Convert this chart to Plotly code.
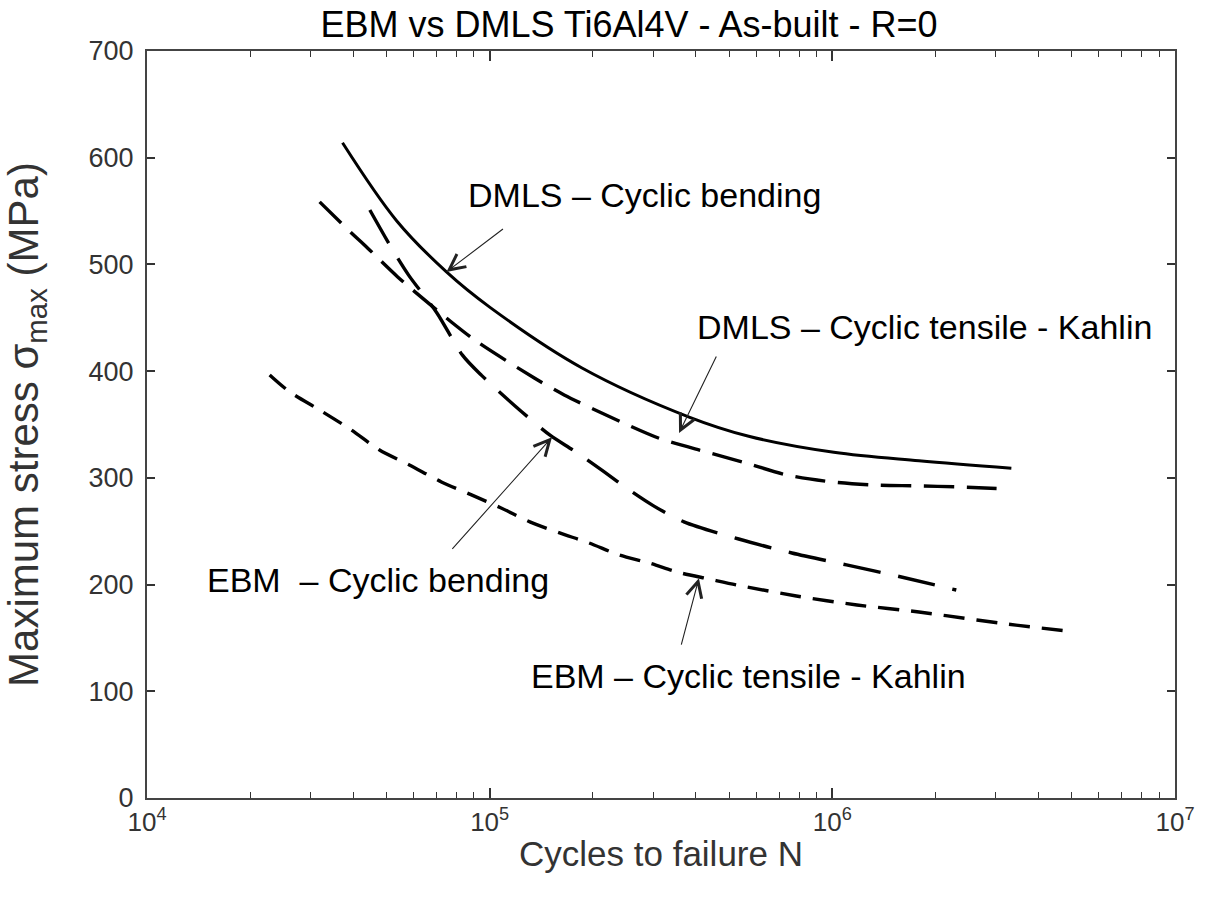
import numpy as np
import plotly.graph_objects as go

# ---- data ----
dmls_bend_N = [37200, 53500, 74800, 100000, 186000, 382000, 570000, 1010000, 1790000, 3330000]
dmls_bend_S = [614, 541, 493, 460, 403, 357, 339, 324, 316, 309]

dmls_tens_N = [31900, 39500, 43100, 53900, 77300, 92100, 135000, 165000, 242000, 316000,
               428000, 560000, 736000, 995000, 1320000, 1750000, 2330000, 3270000]
dmls_tens_S = [558.6, 529.5, 518.3, 488.3, 446.1, 427.4, 393.6, 377.7, 352.4, 336.5,
               324.3, 313.9, 302.7, 296.2, 293.3, 292.5, 291.5, 289.6]

ebm_bend_N = [44700, 51800, 58000, 70000, 83300, 94700, 124000, 150000, 177000, 215000,
              260000, 300000, 369000, 533000, 762000, 1100000, 1590000, 2300000]
ebm_bend_S = [551, 515, 490, 455, 415, 396, 362, 340, 325, 306,
              287, 274, 258.7, 242.7, 229.6, 218.4, 207.1, 194.9]

ebm_tens_N = [22800, 26100, 31900, 39500, 47700, 58300, 72300, 88500, 108000, 131000, 160000,
              195000, 239000, 292000, 361000, 437000, 527000, 785000, 1180000, 1790000,
              2640000, 3220000, 4820000]
ebm_tens_S = [396.4, 380.5, 363.6, 344.9, 326.1, 312.1, 296.2, 284.0, 271.8, 258.7, 248.4,
              239.0, 227.7, 220.2, 210.9, 205.2, 199.6, 189.3, 180.9, 174.3,
              166.8, 163.1, 156.5]

x_tick_vals = [1e4, 1e5, 1e6, 1e7]
x_tick_text = ["10<sup>4</sup>", "10<sup>5</sup>", "10<sup>6</sup>", "10<sup>7</sup>"]

labels = ["DMLS – Cyclic bending", "DMLS – Cyclic tensile - Kahlin",
          "EBM\u00a0 – Cyclic bending", "EBM – Cyclic tensile - Kahlin"]
# arrow tips (cycles, stress) on each curve
tip_N = [74800, 357000, 152000, 408000]
tip_S = [493, 342, 338, 206]

FONT = "Arial, Liberation Sans, sans-serif"

minor_vals = [m * 10 ** e for e in (4, 5, 6) for m in range(2, 10)]

fig = go.Figure()
fig.add_trace(go.Scatter(x=dmls_bend_N, y=dmls_bend_S, mode="lines",
                         line=dict(color="black", width=3, shape="spline", smoothing=1.0)))
fig.add_trace(go.Scatter(x=dmls_tens_N, y=dmls_tens_S, mode="lines",
                         line=dict(color="black", width=3.4, dash="30px,13px", shape="spline", smoothing=0.8)))
fig.add_trace(go.Scatter(x=ebm_bend_N, y=ebm_bend_S, mode="lines",
                         line=dict(color="black", width=3.4, dash="38px,18px", shape="spline", smoothing=0.8)))
fig.add_trace(go.Scatter(x=ebm_tens_N, y=ebm_tens_S, mode="lines",
                         line=dict(color="black", width=3.4, dash="21px,12px", shape="spline", smoothing=0.8)))

# text labels (paper positions)
text_pos = [(0.4835, 0.807), (0.7563, 0.6305), (0.2243, 0.2918), (0.5854, 0.1633)]
for t, (xp, yp) in zip(labels, text_pos):
    fig.add_annotation(text=t, xref="paper", yref="paper", x=xp, y=yp,
                       xanchor="center", yanchor="middle", showarrow=False,
                       font=dict(family=FONT, size=34, color="black"))

# arrows (pixel offsets of the tail relative to the tip)
arrow_off = [(58, -44), (38, -78), (-101, 113), (-18, 68)]
for n, s, (ax, ay) in zip(tip_N, tip_S, arrow_off):
    fig.add_annotation(x=np.log10(n), y=s, xref="x", yref="y", text="",
                       showarrow=True, ax=ax, ay=ay, arrowhead=5, arrowsize=2.8,
                       arrowwidth=1.1, arrowcolor="#222")

# x-axis title
fig.add_annotation(text="Cycles to failure N", xref="paper", yref="paper",
                   x=0.5, y=-0.074, xanchor="center", yanchor="middle", showarrow=False,
                   font=dict(family=FONT, size=35, color="#333"))

fig.update_layout(
    width=1207, height=909,
    margin=dict(l=147, r=30, t=51, b=111),
    plot_bgcolor="white", paper_bgcolor="white",
    showlegend=False,
    font=dict(family=FONT, color="#333"),
    title=dict(text="EBM vs DMLS Ti6Al4V - As-built - R=0",
               x=629 / 1207, xanchor="center", xref="container",
               y=1 - 24 / 909, yanchor="middle", yref="container",
               font=dict(family=FONT, size=36, color="black")),
)

fig.update_xaxes(type="log", range=[4, 7], tickmode="array",
                 tickvals=x_tick_vals, ticktext=x_tick_text,
                 ticks="inside", ticklen=10, tickwidth=1.5, tickcolor="#333",
                 showline=True, linecolor="#444", linewidth=2, mirror="ticks",
                 showgrid=False, zeroline=False,
                 tickfont=dict(family=FONT, size=26, color="#333"),
                 minor=dict(tickmode="array", tickvals=minor_vals, ticks="inside",
                            ticklen=6, tickwidth=1.2, tickcolor="#333", showgrid=False))
fig.update_yaxes(range=[0, 700], dtick=100,
                 ticks="inside", ticklen=8, tickwidth=1.5, tickcolor="#333",
                 showline=True, linecolor="#444", linewidth=2, mirror="ticks",
                 showgrid=False, zeroline=False,
                 tickfont=dict(family=FONT, size=27, color="#333"),
                 ticklabelstandoff=6,
                 title=dict(text="Maximum stress σ<sub>max</sub> (MPa)", standoff=40,
                            font=dict(family=FONT, size=42, color="#333")))

fig.write_html("out.html")
